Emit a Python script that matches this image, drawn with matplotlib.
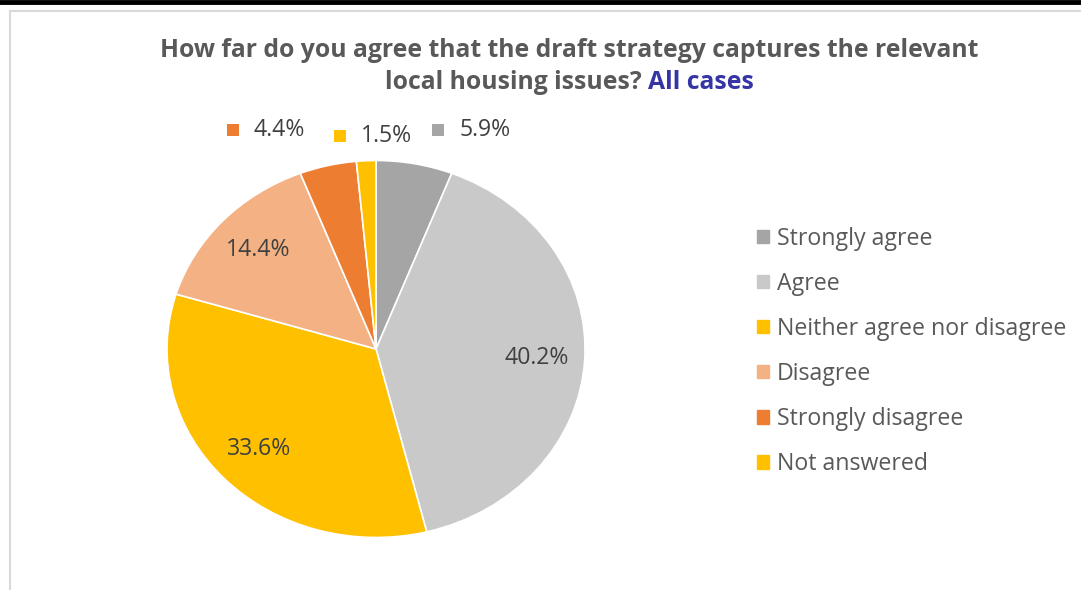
import matplotlib

matplotlib.use("Agg")
import matplotlib.pyplot as plt
from matplotlib.lines import Line2D
import numpy as np

plt.rcParams["font.family"] = ["Open Sans", "DejaVu Sans"]

# survey responses (percent of all cases)
categories = [
    "Strongly agree",
    "Agree",
    "Neither agree nor disagree",
    "Disagree",
    "Strongly disagree",
    "Not answered",
]
shares = [5.9, 40.2, 33.6, 14.4, 4.4, 1.5]
colors = ["#A5A5A5", "#C9C9C9", "#FFC000", "#F4B183", "#ED7D31", "#FFC000"]

# small slices get their labels in a row above the pie, with a colour key
# (x of text start, y) in pie units
outside = {
    "Strongly disagree": (-0.585, 1.16),
    "Not answered": (-0.072, 1.128),
    "Strongly agree": (0.398, 1.16),
}

fig = plt.figure(figsize=(10.81, 5.90), dpi=100)

# chart frame: dark rule at the very top, light border below/left
fig.add_artist(Line2D([0, 1], [0.997, 0.997], color="black", lw=3.5, transform=fig.transFigure))
fig.add_artist(Line2D([0.0093, 1], [0.981, 0.981], color="#D9D9D9", lw=1.5, transform=fig.transFigure))
fig.add_artist(Line2D([0.0093, 0.0093], [0, 0.981], color="#D9D9D9", lw=1.5, transform=fig.transFigure))

# title: grey question plus blue qualifier on the second line
title_kw = dict(fontsize=17.8, fontweight="bold", va="center")
fig.text(0.5268, 0.915, "How far do you agree that the draft strategy captures the relevant",
         ha="center", color="#595959", **title_kw)
t2 = fig.text(0.5268, 0.860, "local housing issues? ", ha="right", color="#595959", **title_kw)
t3 = fig.text(0.5268, 0.860, "All cases", ha="left", color="#3535A5", **title_kw)
# shift the second line so the combined string is centred
fig.canvas.draw()
r = fig.canvas.get_renderer()
w1 = t2.get_window_extent(r).width
w2 = t3.get_window_extent(r).width
shift = (w1 - w2) / 2 / fig.bbox.width
t2.set_x(0.5268 + shift)
t3.set_x(0.5268 + shift)

# pie drawn in an axes box that is wider than tall, so it becomes an ellipse
ax = fig.add_axes([0.1545, 0.089, 0.3867, 0.639])
wedges, _ = ax.pie(
    shares,
    colors=colors,
    startangle=90,
    counterclock=False,
    radius=1,
    wedgeprops={"edgecolor": "white", "linewidth": 1.2},
)
ax.set_xlim(-1, 1)
ax.set_ylim(-1, 1)
ax.set_aspect("auto")
ax.axis("off")

for w, name, val in zip(wedges, categories, shares):
    if name in outside:
        x0, y0 = outside[name]
        ax.scatter([x0 - 0.1], [y0], marker="s", s=80, color=w.get_facecolor(),
                   clip_on=False, linewidths=0)
        ax.text(x0, y0, f"{val}%", ha="left", va="center", fontsize=16.6,
                color="#404040", clip_on=False)
    else:
        mid = np.deg2rad((w.theta1 + w.theta2) / 2)
        ax.text(0.77 * np.cos(mid), 0.77 * np.sin(mid), f"{val}%", ha="center",
                va="center", fontsize=16.6, color="#404040")

handles = [plt.Rectangle((0, 0), 1, 1, color=c) for c in colors]
fig.legend(
    handles,
    categories,
    loc="upper left",
    bbox_to_anchor=(0.7003, 0.616),
    frameon=False,
    fontsize=16.7,
    labelcolor="#595959",
    borderpad=0,
    borderaxespad=0,
    handlelength=0.52,
    handleheight=0.52,
    handletextpad=0.34,
    labelspacing=0.91,
)

fig.savefig("out.png", dpi=100)
plt.close(fig)
